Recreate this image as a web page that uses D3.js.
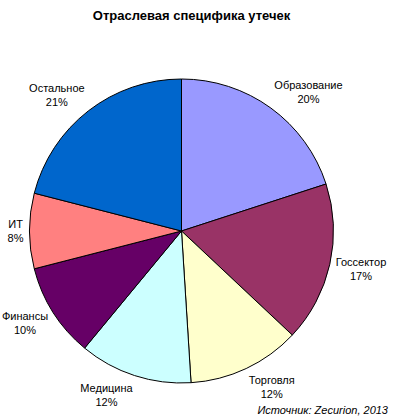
<!DOCTYPE html>
<html><head><meta charset="utf-8">
<script src="https://cdn.jsdelivr.net/npm/d3@7"></script>
<style>body{margin:0;background:#fff}svg{display:block}</style>
</head><body>
<svg id="chart" width="400" height="420"></svg>
<script>
const categories = ["Образование","Госсектор","Торговля","Медицина","Финансы","ИТ","Остальное"];
const values = [20,17,12,12,10,8,21];
const colors = ["#9999FF","#993366","#FFFFCC","#CCFFFF","#660066","#FF8080","#0066CC"];
const title = "Отраслевая специфика утечек";
const source = "Источник: Zecurion, 2013";

const svg = d3.select("#chart");
const W = 400, H = 420;
const cx = 181.5, cy = 231, r = 152;
const font = "Arial, 'Liberation Sans', sans-serif";

svg.append("rect").attr("width",W).attr("height",H).attr("fill","#fff");

svg.append("text").attr("x",191.5).attr("y",20).attr("text-anchor","middle")
  .attr("font-family",font).attr("font-size",13).attr("font-weight","bold")
  .attr("fill","#000").text(title);

const data = categories.map((c,i)=>({name:c,value:values[i],color:colors[i]}));
const pie = d3.pie().sort(null).value(d=>d.value);
const arc = d3.arc().innerRadius(0).outerRadius(r);
const arcs = pie(data);

const g = svg.append("g").attr("transform",`translate(${cx},${cy})`);
g.selectAll("path").data(arcs).join("path")
  .attr("d",arc).attr("fill",d=>d.data.color)
  .attr("stroke","#000").attr("stroke-width",1).attr("stroke-linejoin","round");

const R = r + 6;
const lh = 14;
arcs.forEach(d=>{
  const a = (d.startAngle + d.endAngle)/2;
  const lbl = g.append("text").attr("font-family",font).attr("font-size",11)
    .attr("fill","#000").attr("text-anchor","middle");
  const t1 = lbl.append("tspan").attr("x",0).attr("dy",0).text(d.data.name);
  const t2 = lbl.append("tspan").attr("x",0).attr("dy",lh).text(d.data.value + "%");
  const w = Math.max(t1.node().getComputedTextLength(), t2.node().getComputedTextLength());
  const h = 28;
  const s = Math.sin(a), c = Math.cos(a);
  const bx = R*s + (w/2)*(Math.abs(s)<0.05?0:Math.sign(s));
  const by = -R*c - (h/2)*c;
  // box center (bx,by); first baseline at center - lh/2 + ~4
  lbl.attr("transform",`translate(${bx},${by - lh/2 + 4})`);
});

svg.append("text").attr("x",388).attr("y",414).attr("text-anchor","end")
  .attr("font-family",font).attr("font-size",11).attr("font-style","italic")
  .attr("fill","#000").text(source);
</script>
</body></html>
